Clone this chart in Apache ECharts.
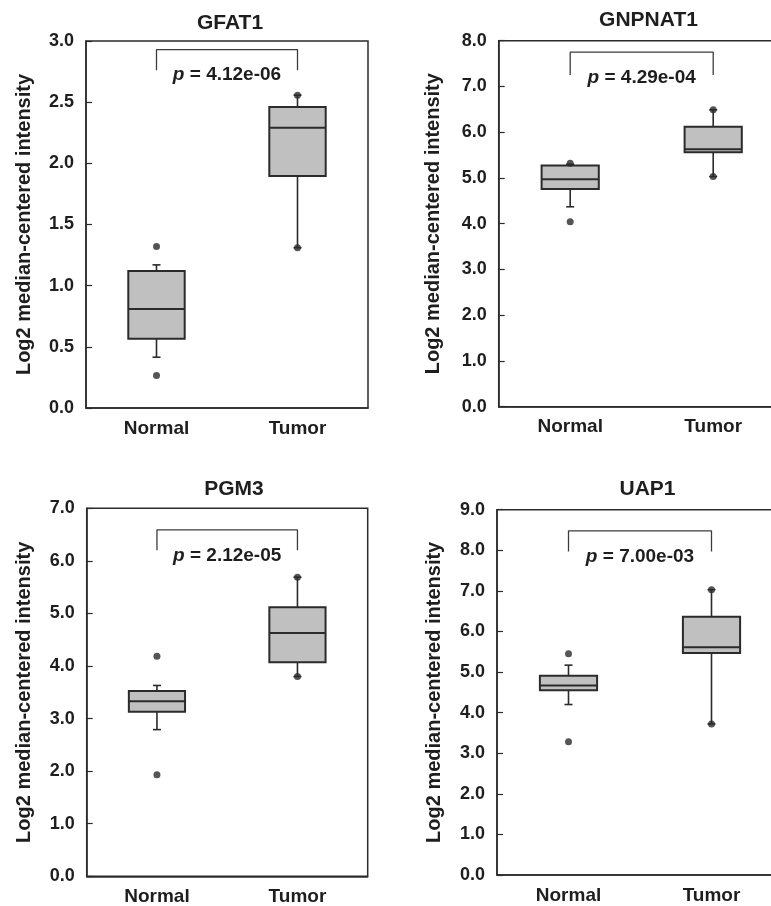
<!DOCTYPE html>
<html><head><meta charset="utf-8">
<script src="https://cdn.jsdelivr.net/npm/echarts@6/dist/echarts.min.js"></script>
<style>html,body{margin:0;padding:0;background:#fff}#c{width:771px;height:906px}</style>
</head><body><div id="c"></div>
<script>
const categories = ['Normal', 'Tumor'];
const genes = ['GFAT1', 'GNPNAT1', 'PGM3', 'UAP1'];
const pValues = ['4.12e-06', '4.29e-04', '2.12e-05', '7.00e-03'];
const yAxisName = 'Log2 median-centered intensity';
// box stats: [lower whisker, Q1, median, Q3, upper whisker]
const gfat1Normal = [0.415, 0.567, 0.81, 1.12, 1.17];
const gfat1Tumor = [1.31, 1.897, 2.29, 2.46, 2.557];
const gnpnat1Normal = [4.37, 4.76, 4.97, 5.27, 5.30];
const gnpnat1Tumor = [5.03, 5.56, 5.63, 6.12, 6.49];
const pgm3Normal = [2.79, 3.13, 3.33, 3.525, 3.63];
const pgm3Tumor = [3.80, 4.07, 4.63, 5.12, 5.69];
const uap1Normal = [4.20, 4.55, 4.67, 4.91, 5.17];
const uap1Tumor = [3.72, 5.47, 5.61, 6.36, 7.03];
// individual points [category index, value]
const gfat1Dots = [[0, 1.32], [0, 0.265], [1, 2.557], [1, 1.31]];
const gnpnat1Dots = [[0, 5.32], [0, 4.04], [1, 6.49], [1, 5.03]];
const pgm3Dots = [[0, 4.185], [0, 1.93], [1, 5.69], [1, 3.80]];
const uap1Dots = [[0, 5.45], [0, 3.28], [1, 7.03], [1, 3.72]];
// y axis ranges
const yMaxes = [3, 8, 7, 9];
const yIntervals = [0.5, 1, 1, 1];
// significance bracket [leg bottom, bar top]
const brackets = [[2.76, 2.93], [7.25, 7.75], [6.20, 6.59], [7.97, 8.48]];

const boxes = [[gfat1Normal, gfat1Tumor], [gnpnat1Normal, gnpnat1Tumor], [pgm3Normal, pgm3Tumor], [uap1Normal, uap1Tumor]];
const dots = [gfat1Dots, gnpnat1Dots, pgm3Dots, uap1Dots];

// layout
const grids = [
  {left: 86, top: 41, width: 282, height: 367},
  {left: 498.7, top: 40.7, width: 286, height: 366},
  {left: 86.7, top: 508.3, width: 281, height: 368},
  {left: 497, top: 509.7, width: 286, height: 365.3}
];
const titlePos = [[225, 8], [643.5, 5], [229, 474], [642.5, 474]];
const nameGaps = [52, 55, 52, 53];

const FONT = '"Liberation Sans", Arial, sans-serif';
const TXT = '#1e1e1e';
const LINE = '#2b2b2b';

function renderBox(params, api) {
  const x = api.value(0);
  const pL = api.coord([x, api.value(1)]);
  const p1 = api.coord([x, api.value(2)]);
  const pm = api.coord([x, api.value(3)]);
  const p3 = api.coord([x, api.value(4)]);
  const pH = api.coord([x, api.value(5)]);
  const bw = api.size([1, 0])[0] * 0.4;
  const cx = pm[0];
  const cap = 4;
  const st = {stroke: LINE, lineWidth: 1.6};
  return {type: 'group', children: [
    {type: 'line', shape: {x1: cx, y1: p3[1], x2: cx, y2: pH[1]}, style: st},
    {type: 'line', shape: {x1: cx, y1: p1[1], x2: cx, y2: pL[1]}, style: st},
    {type: 'line', shape: {x1: cx - cap, y1: pH[1], x2: cx + cap, y2: pH[1]}, style: st},
    {type: 'line', shape: {x1: cx - cap, y1: pL[1], x2: cx + cap, y2: pL[1]}, style: st},
    {type: 'rect', shape: {x: cx - bw / 2, y: p3[1], width: bw, height: p1[1] - p3[1]},
      style: {fill: '#c0c0c0', stroke: LINE, lineWidth: 2}},
    {type: 'line', shape: {x1: cx - bw / 2, y1: pm[1], x2: cx + bw / 2, y2: pm[1]},
      style: {stroke: LINE, lineWidth: 2}}
  ]};
}

const option = {
  animation: false,
  backgroundColor: '#fff',
  title: genes.map((g, i) => ({
    text: g, left: titlePos[i][0], top: titlePos[i][1], textAlign: 'center',
    textStyle: {fontFamily: FONT, fontWeight: 'bold', fontSize: 21, color: TXT}
  })),
  grid: grids.map(g => Object.assign({show: true, borderColor: LINE, borderWidth: 1.5,
    containLabel: false, outerBoundsMode: 'none'}, g)),
  xAxis: genes.map((g, i) => ({
    type: 'category', gridIndex: i, data: categories, boundaryGap: true,
    axisLine: {show: true, lineStyle: {color: LINE, width: 1.5}},
    axisTick: {show: false},
    axisLabel: {fontFamily: FONT, fontWeight: 'bold', fontSize: 19, color: TXT, margin: 11}
  })),
  yAxis: genes.map((g, i) => ({
    type: 'value', gridIndex: i, min: 0, max: yMaxes[i], interval: yIntervals[i],
    name: yAxisName, nameLocation: 'middle', nameGap: nameGaps[i], nameRotate: 90,
    nameTextStyle: {fontFamily: FONT, fontWeight: 'bold', fontSize: 20, color: TXT},
    axisLine: {show: true, lineStyle: {color: LINE, width: 1.5}},
    axisTick: {show: true, inside: true, length: 6, lineStyle: {color: LINE, width: 1.2}},
    splitLine: {show: false},
    axisLabel: {fontFamily: FONT, fontWeight: 'bold', fontSize: 18, color: TXT, margin: 12,
      formatter: v => v.toFixed(1)}
  })),
  series: []
};

genes.forEach((g, i) => {
  option.series.push({
    type: 'custom', xAxisIndex: i, yAxisIndex: i, renderItem: renderBox,
    encode: {x: 0, y: [1, 2, 3, 4, 5]},
    data: boxes[i].map((b, k) => [k].concat(b)), z: 3
  });
  option.series.push({
    type: 'scatter', xAxisIndex: i, yAxisIndex: i, data: dots[i],
    symbol: 'circle', symbolSize: 7, itemStyle: {color: LINE}, z: 4, silent: true
  });
  const b = brackets[i];
  option.series.push({
    type: 'line', xAxisIndex: i, yAxisIndex: i, symbol: 'none', silent: true,
    data: [[0, b[0]], [0, b[1]], [1, b[1]], [1, b[0]]],
    lineStyle: {color: '#3c3c3c', width: 1.3},
    markLine: {
      silent: true, symbol: ['none', 'none'],
      lineStyle: {color: 'rgba(0,0,0,0)', width: 0},
      label: {
        show: true, position: 'insideMiddleBottom', distance: 16,
        formatter: '{i|p} = ' + pValues[i],
        fontFamily: FONT, fontWeight: 'bold', fontSize: 19, color: TXT,
        rich: {i: {fontFamily: FONT, fontWeight: 'bold', fontStyle: 'italic', fontSize: 19, color: TXT}}
      },
      data: [[{coord: [0, b[1]]}, {coord: [1, b[1]]}]]
    }
  });
});

const chart = echarts.init(document.getElementById('c'), null, {renderer: 'canvas'});
chart.setOption(option);
</script>
</body></html>
